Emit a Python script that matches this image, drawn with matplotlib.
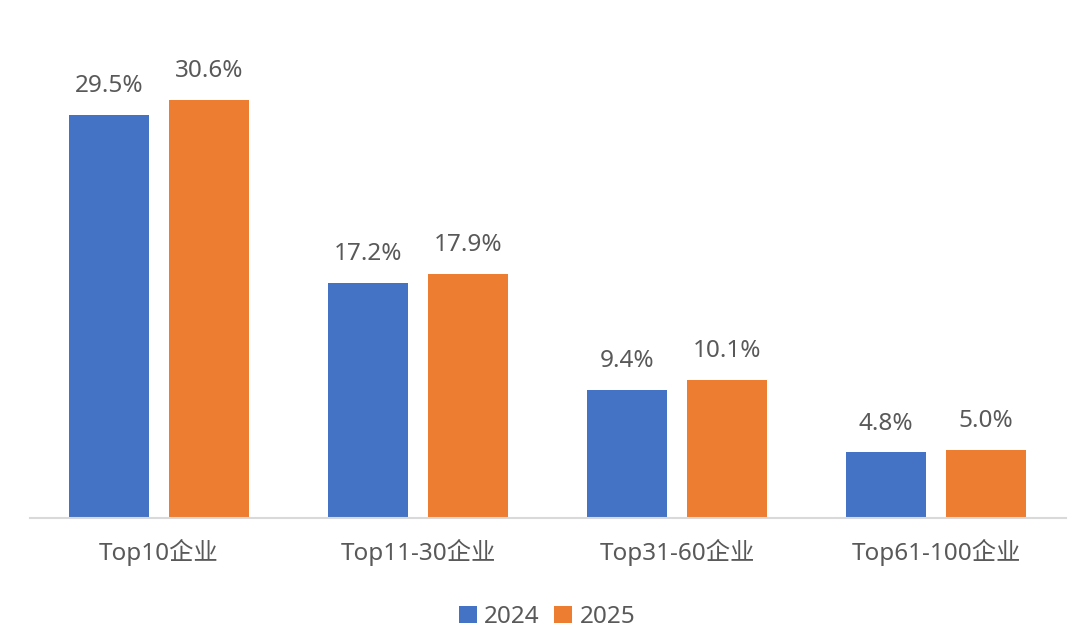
import matplotlib
matplotlib.use("Agg")
import matplotlib.pyplot as plt
import numpy as np

plt.rcParams['font.family'] = ['Noto Sans', 'Noto Sans CJK SC', 'DejaVu Sans']

categories = ["Top10企业", "Top11-30企业", "Top31-60企业", "Top61-100企业"]
series_names = ["2024", "2025"]
values_2024 = [29.5, 17.2, 9.4, 4.8]
values_2025 = [30.6, 17.9, 10.1, 5.0]
colors = ["#4472C4", "#ED7D31"]
text_color = "#595959"

fig = plt.figure(figsize=(10.8, 6.38), dpi=100)
ax = fig.add_axes([29.5/1080, 120/638, 1036/1080, 478/638])

x = np.arange(len(categories))
w = 80/259
off = 50/259
b1 = ax.bar(x - off, values_2024, width=w, color=colors[0], label=series_names[0])
b2 = ax.bar(x + off, values_2025, width=w, color=colors[1], label=series_names[1])

for bars, vals in ((b1, values_2024), (b2, values_2025)):
    for rect, v in zip(bars, vals):
        ax.annotate(f"{v:.1f}%", (rect.get_x() + rect.get_width()/2, rect.get_height()),
                    xytext=(0, 12), textcoords="offset points", ha="center", va="bottom",
                    fontsize=17.5, color=text_color)

ax.set_xlim(-0.5, 3.5)
ax.set_ylim(0, 35)
ax.set_xticks(x)
ax.set_xticklabels(categories, fontsize=17.5, color=text_color)
ax.tick_params(axis='x', length=0, pad=15)
ax.set_yticks([])
for s in ("top", "right", "left"):
    ax.spines[s].set_visible(False)
ax.spines["bottom"].set_color("#D9D9D9")
ax.spines["bottom"].set_linewidth(1.5)

leg = fig.legend(handles=[b1, b2], labels=series_names, loc="center",
                 bbox_to_anchor=(547/1080, 1 - 617/638), ncol=2, frameon=False,
                 fontsize=17.5, handlelength=0.75, handleheight=0.75, handletextpad=0.3,
                 columnspacing=0.6)
for t in leg.get_texts():
    t.set_color(text_color)

fig.savefig("out.png", dpi=100)
